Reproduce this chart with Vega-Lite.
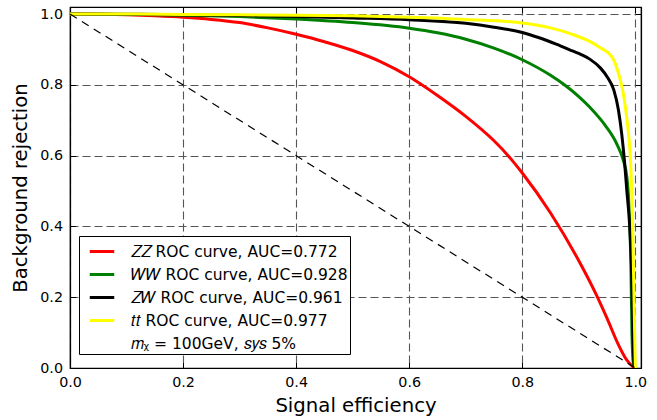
{
  "$schema": "https://vega.github.io/schema/vega-lite/v6.json",
  "width": 571,
  "height": 361,
  "autosize": {"type": "none"},
  "padding": {"left": 70, "top": 7, "right": 16, "bottom": 52},
  "background": "white",
  "config": {
    "font": "DejaVu Sans",
    "view": {"stroke": "black", "strokeWidth": 1.2},
    "axis": {
      "labelFont": "DejaVu Sans",
      "titleFont": "DejaVu Sans",
      "labelColor": "black",
      "titleColor": "black",
      "labelFontSize": 14.3,
      "titleFontSize": 19.7,
      "titleFontWeight": "normal",
      "tickColor": "black",
      "tickSize": -5.5,
      "tickWidth": 1,
      "domainColor": "black",
      "domainWidth": 1.2,
      "gridColor": "#555555",
      "gridDash": [8, 4],
      "gridWidth": 1.1,
      "gridOpacity": 1,
      "labelFlush": false,
      "labelOverlap": false,
      "zindex": 1
    },
    "legend": {
      "orient": "none",
      "legendX": 9,
      "legendY": 229,
      "direction": "vertical",
      "strokeColor": "black",
      "fillColor": "white",
      "padding": 1.5,
      "cornerRadius": 0,
      "symbolType": "stroke",
      "symbolSize": 600,
      "symbolStrokeWidth": 3,
      "symbolOffset": 7.5,
      "rowPadding": 0,
      "labelOffset": 14.5,
      "labelFont": "DejaVu Sans",
      "labelFontSize": 15.5,
      "labelColor": "black",
      "labelLimit": 400,
      "zindex": 2
    }
  },
  "layer": [
    {
      "data": {
        "values": [
          {"process": "ZZ", "i": 0, "eff": 0.0, "rej": 1.0},
          {"process": "ZZ", "i": 1, "eff": 0.05, "rej": 0.9995},
          {"process": "ZZ", "i": 2, "eff": 0.1, "rej": 0.998},
          {"process": "ZZ", "i": 3, "eff": 0.15, "rej": 0.995},
          {"process": "ZZ", "i": 4, "eff": 0.2, "rej": 0.991},
          {"process": "ZZ", "i": 5, "eff": 0.25, "rej": 0.985},
          {"process": "ZZ", "i": 6, "eff": 0.3, "rej": 0.976},
          {"process": "ZZ", "i": 7, "eff": 0.35, "rej": 0.961},
          {"process": "ZZ", "i": 8, "eff": 0.4, "rej": 0.943},
          {"process": "ZZ", "i": 9, "eff": 0.45, "rej": 0.922},
          {"process": "ZZ", "i": 10, "eff": 0.5, "rej": 0.897},
          {"process": "ZZ", "i": 11, "eff": 0.55, "rej": 0.865},
          {"process": "ZZ", "i": 12, "eff": 0.6, "rej": 0.823},
          {"process": "ZZ", "i": 13, "eff": 0.65, "rej": 0.77},
          {"process": "ZZ", "i": 14, "eff": 0.7, "rej": 0.711},
          {"process": "ZZ", "i": 15, "eff": 0.75, "rej": 0.642},
          {"process": "ZZ", "i": 16, "eff": 0.775, "rej": 0.6},
          {"process": "ZZ", "i": 17, "eff": 0.8, "rej": 0.551},
          {"process": "ZZ", "i": 18, "eff": 0.85, "rej": 0.438},
          {"process": "ZZ", "i": 19, "eff": 0.9, "rej": 0.303},
          {"process": "ZZ", "i": 20, "eff": 0.93, "rej": 0.21},
          {"process": "ZZ", "i": 21, "eff": 0.95, "rej": 0.14},
          {"process": "ZZ", "i": 22, "eff": 0.97, "rej": 0.066},
          {"process": "ZZ", "i": 23, "eff": 0.985, "rej": 0.022},
          {"process": "ZZ", "i": 24, "eff": 0.995, "rej": 0.005},
          {"process": "ZZ", "i": 25, "eff": 1.0, "rej": 0.0},

          {"process": "WW", "i": 0, "eff": 0.0, "rej": 1.0},
          {"process": "WW", "i": 1, "eff": 0.1, "rej": 0.999},
          {"process": "WW", "i": 2, "eff": 0.2, "rej": 0.997},
          {"process": "WW", "i": 3, "eff": 0.3, "rej": 0.993},
          {"process": "WW", "i": 4, "eff": 0.4, "rej": 0.986},
          {"process": "WW", "i": 5, "eff": 0.5, "rej": 0.976},
          {"process": "WW", "i": 6, "eff": 0.6, "rej": 0.96},
          {"process": "WW", "i": 7, "eff": 0.65, "rej": 0.947},
          {"process": "WW", "i": 8, "eff": 0.7, "rej": 0.929},
          {"process": "WW", "i": 9, "eff": 0.75, "rej": 0.904},
          {"process": "WW", "i": 10, "eff": 0.8, "rej": 0.871},
          {"process": "WW", "i": 11, "eff": 0.85, "rej": 0.827},
          {"process": "WW", "i": 12, "eff": 0.875, "rej": 0.7995},
          {"process": "WW", "i": 13, "eff": 0.9, "rej": 0.767},
          {"process": "WW", "i": 14, "eff": 0.92, "rej": 0.736},
          {"process": "WW", "i": 15, "eff": 0.947, "rej": 0.685},
          {"process": "WW", "i": 16, "eff": 0.9675, "rej": 0.632},
          {"process": "WW", "i": 17, "eff": 0.978, "rej": 0.59},
          {"process": "WW", "i": 18, "eff": 0.985, "rej": 0.54},
          {"process": "WW", "i": 19, "eff": 0.989, "rej": 0.45},
          {"process": "WW", "i": 20, "eff": 0.992, "rej": 0.3},
          {"process": "WW", "i": 21, "eff": 0.994, "rej": 0.1},
          {"process": "WW", "i": 22, "eff": 0.996, "rej": 0.02},
          {"process": "WW", "i": 23, "eff": 1.0, "rej": 0.0},

          {"process": "ZW", "i": 0, "eff": 0.0, "rej": 1.0},
          {"process": "ZW", "i": 1, "eff": 0.1, "rej": 0.9995},
          {"process": "ZW", "i": 2, "eff": 0.2, "rej": 0.998},
          {"process": "ZW", "i": 3, "eff": 0.3, "rej": 0.996},
          {"process": "ZW", "i": 4, "eff": 0.4, "rej": 0.993},
          {"process": "ZW", "i": 5, "eff": 0.5, "rej": 0.989},
          {"process": "ZW", "i": 6, "eff": 0.6, "rej": 0.984},
          {"process": "ZW", "i": 7, "eff": 0.7, "rej": 0.974},
          {"process": "ZW", "i": 8, "eff": 0.75, "rej": 0.963},
          {"process": "ZW", "i": 9, "eff": 0.8, "rej": 0.948},
          {"process": "ZW", "i": 10, "eff": 0.83, "rej": 0.933},
          {"process": "ZW", "i": 11, "eff": 0.86, "rej": 0.915},
          {"process": "ZW", "i": 12, "eff": 0.89, "rej": 0.895},
          {"process": "ZW", "i": 13, "eff": 0.905, "rej": 0.885},
          {"process": "ZW", "i": 14, "eff": 0.92, "rej": 0.872},
          {"process": "ZW", "i": 15, "eff": 0.938, "rej": 0.848},
          {"process": "ZW", "i": 16, "eff": 0.95, "rej": 0.823},
          {"process": "ZW", "i": 17, "eff": 0.962, "rej": 0.785},
          {"process": "ZW", "i": 18, "eff": 0.97, "rej": 0.73},
          {"process": "ZW", "i": 19, "eff": 0.976, "rej": 0.66},
          {"process": "ZW", "i": 20, "eff": 0.981, "rej": 0.58},
          {"process": "ZW", "i": 21, "eff": 0.985, "rej": 0.5},
          {"process": "ZW", "i": 22, "eff": 0.99, "rej": 0.4},
          {"process": "ZW", "i": 23, "eff": 0.994, "rej": 0.24},
          {"process": "ZW", "i": 24, "eff": 0.996, "rej": 0.08},
          {"process": "ZW", "i": 25, "eff": 0.998, "rej": 0.0},

          {"process": "tt", "i": 0, "eff": 0.0, "rej": 1.0},
          {"process": "tt", "i": 1, "eff": 0.1, "rej": 1.0},
          {"process": "tt", "i": 2, "eff": 0.2, "rej": 0.999},
          {"process": "tt", "i": 3, "eff": 0.3, "rej": 0.998},
          {"process": "tt", "i": 4, "eff": 0.4, "rej": 0.997},
          {"process": "tt", "i": 5, "eff": 0.5, "rej": 0.995},
          {"process": "tt", "i": 6, "eff": 0.6, "rej": 0.991},
          {"process": "tt", "i": 7, "eff": 0.7, "rej": 0.985},
          {"process": "tt", "i": 8, "eff": 0.8, "rej": 0.975},
          {"process": "tt", "i": 9, "eff": 0.85, "rej": 0.961},
          {"process": "tt", "i": 10, "eff": 0.89, "rej": 0.942},
          {"process": "tt", "i": 11, "eff": 0.92, "rej": 0.922},
          {"process": "tt", "i": 12, "eff": 0.94, "rej": 0.903},
          {"process": "tt", "i": 13, "eff": 0.955, "rej": 0.886},
          {"process": "tt", "i": 14, "eff": 0.96, "rej": 0.875},
          {"process": "tt", "i": 15, "eff": 0.965, "rej": 0.858},
          {"process": "tt", "i": 16, "eff": 0.972, "rej": 0.822},
          {"process": "tt", "i": 17, "eff": 0.977, "rej": 0.79},
          {"process": "tt", "i": 18, "eff": 0.983, "rej": 0.73},
          {"process": "tt", "i": 19, "eff": 0.988, "rej": 0.66},
          {"process": "tt", "i": 20, "eff": 0.991, "rej": 0.6},
          {"process": "tt", "i": 21, "eff": 0.995, "rej": 0.42},
          {"process": "tt", "i": 22, "eff": 0.997, "rej": 0.25},
          {"process": "tt", "i": 23, "eff": 0.999, "rej": 0.08},
          {"process": "tt", "i": 24, "eff": 1.0, "rej": 0.0}
        ]
      },
      "mark": {"type": "line", "strokeWidth": 3, "interpolate": "monotone", "clip": true},
      "encoding": {
        "x": {
          "field": "eff",
          "type": "quantitative",
          "scale": {"domain": [0, 1.01], "nice": false, "zero": false},
          "axis": {
            "orient": "bottom",
            "values": [0, 0.2, 0.4, 0.6, 0.8, 1.0],
            "format": ".1f",
            "title": "Signal efficiency",
            "labelPadding": 13,
            "titlePadding": 6,
            "grid": true
          }
        },
        "y": {
          "field": "rej",
          "type": "quantitative",
          "scale": {"domain": [0, 1.02], "nice": false, "zero": false},
          "axis": {
            "orient": "left",
            "values": [0, 0.2, 0.4, 0.6, 0.8, 1.0],
            "format": ".1f",
            "title": "Background rejection",
            "labelPadding": 13,
            "titlePadding": 9,
            "grid": true
          }
        },
        "color": {
          "field": "process",
          "type": "nominal",
          "scale": {
            "domain": ["ZZ", "WW", "ZW", "tt", "note"],
            "range": ["#ff0000", "#008000", "#000000", "#ffff00", "transparent"]
          },
          "legend": {
            "title": null,
            "labelExpr": "datum.label == 'ZZ' ? '𝑍𝑍 ROC curve, AUC=0.772' : datum.label == 'WW' ? '𝑊𝑊 ROC curve, AUC=0.928' : datum.label == 'ZW' ? '𝑍𝑊 ROC curve, AUC=0.961' : datum.label == 'tt' ? '𝑡𝑡 ROC curve, AUC=0.977' : '𝑚ᵪ = 100GeV, 𝑠𝑦𝑠 5%'"
          }
        },
        "order": {"field": "i", "type": "quantitative"}
      }
    },
    {
      "data": {"values": [{"eff": 0, "rej": 1}, {"eff": 1, "rej": 0}]},
      "mark": {"type": "line", "color": "black", "strokeDash": [8, 6], "strokeWidth": 1.2},
      "encoding": {
        "x": {
          "field": "eff",
          "type": "quantitative",
          "axis": {"orient": "top", "values": [0, 0.2, 0.4, 0.6, 0.8, 1.0], "labels": false, "title": null, "grid": false}
        },
        "y": {
          "field": "rej",
          "type": "quantitative",
          "axis": {"orient": "right", "values": [0, 0.2, 0.4, 0.6, 0.8, 1.0], "labels": false, "title": null, "grid": false}
        }
      }
    }
  ],
  "resolve": {"axis": {"x": "independent", "y": "independent"}}
}
